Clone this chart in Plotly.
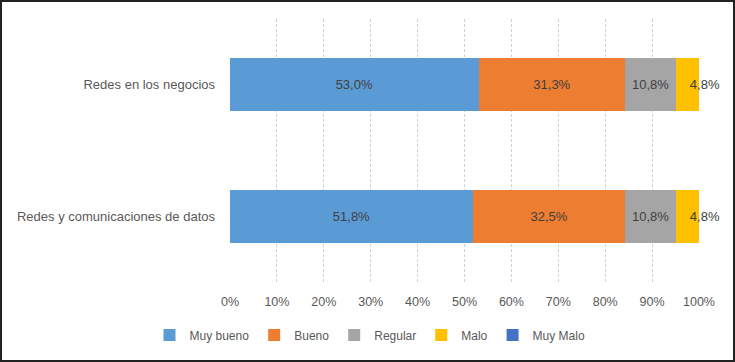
import plotly.graph_objects as go

categories = ["Redes y comunicaciones de datos", "Redes en los negocios"]
series_names = ["Muy bueno", "Bueno", "Regular", "Malo", "Muy Malo"]
muy_bueno = [51.8, 53.0]
bueno = [32.5, 31.3]
regular = [10.8, 10.8]
malo = [4.8, 4.8]
muy_malo = [0.0, 0.0]
tick_vals = [0, 10, 20, 30, 40, 50, 60, 70, 80, 90, 100]
tick_text = [f"{v}%" for v in tick_vals]

colors = ["#5B9BD5", "#ED7D31", "#A5A5A5", "#FFC000", "#4472C4"]
series = [muy_bueno, bueno, regular, malo, muy_malo]
# the narrow "Malo" label starts inside its bar and overflows to the right
label_anchor = {"Malo": "start"}
label_pad = {"Malo": "\u00a0" * 3}

W, H = 735, 362
L, R, T, B = 230, 36, 19, 80
pw, ph = W - L - R, H - T - B

fig = go.Figure()
for name, vals, col in zip(series_names, series, colors):
    pad = label_pad.get(name, "")
    fig.add_trace(go.Bar(
        y=categories, x=vals, name=name, orientation="h",
        marker=dict(color=col, line=dict(width=0)),
        text=[(pad + f"{v:.1f}%".replace(".", ",") if v > 0 else "") for v in vals],
        textposition="inside", insidetextanchor=label_anchor.get(name, "middle"),
        textangle=0,
        textfont=dict(color="#404040", size=13),
        constraintext="none", cliponaxis=False,
    ))

def px_x(p):
    return (p - L) / pw

def px_y(p):
    return (H - B - p) / ph

fig.update_layout(
    width=W, height=H,
    barmode="stack", bargap=0.6,
    margin=dict(l=L, r=R, t=T, b=B, pad=0),
    paper_bgcolor="white", plot_bgcolor="white",
    font=dict(family="Liberation Sans", size=13, color="#595959"),
    xaxis=dict(range=[0, 100], tickvals=tick_vals, ticktext=tick_text,
               showgrid=True, gridcolor="#D0D0D0", griddash="3px,2px", gridwidth=1,
               zeroline=False, showline=False, ticks="", ticklen=0,
               ticklabelstandoff=10,
               tickfont=dict(size=12.5, color="#595959")),
    yaxis=dict(showgrid=False, zeroline=False, showline=False, ticks="",
               ticklabelstandoff=14,
               tickfont=dict(size=13, color="#595959")),
    legend=dict(orientation="h", x=px_x(370), xanchor="center",
                y=px_y(335), yanchor="middle", traceorder="normal",
                font=dict(size=12, color="#595959"), itemwidth=30,
                tracegroupgap=0),
    showlegend=True,
    shapes=[dict(type="rect", xref="paper", yref="paper",
                 x0=px_x(1), x1=px_x(734), y0=px_y(361), y1=px_y(1),
                 line=dict(color="#222222", width=2), layer="above")],
)

fig.write_html("out.html", config={"displayModeBar": False},
               post_script="document.body.style.margin='0';document.body.style.overflow='hidden';")
